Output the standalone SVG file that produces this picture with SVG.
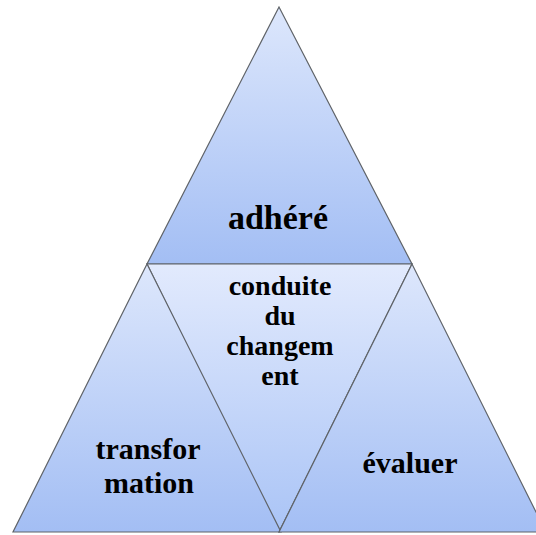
<svg xmlns="http://www.w3.org/2000/svg" width="536" height="535" viewBox="0 0 536 535">
<defs>
<linearGradient id="g" x1="0" y1="0" x2="0" y2="1">
<stop offset="0" stop-color="#dde7fc"/>
<stop offset="1" stop-color="#a3bef4"/>
</linearGradient>
<linearGradient id="gm" x1="0" y1="0" x2="0" y2="1">
<stop offset="0" stop-color="#e2eafd"/>
<stop offset="1" stop-color="#aac4f6"/>
</linearGradient>
</defs>
<style>
.tri{fill:url(#g);stroke:#5f6368;stroke-width:1.2;stroke-linejoin:miter}
.mid{fill:url(#gm);stroke:#5f6368;stroke-width:1.2}
.t{font-family:"Liberation Serif","Times New Roman",serif;font-weight:bold;fill:#000;text-anchor:middle}
</style>
<g id="top">
<polygon class="tri" points="279,7 147,264 412,264"/>
<text class="t" x="278" y="229" font-size="34">adhéré</text>
</g>
<g id="middle">
<polygon class="mid" points="147,264 412,264 279,532"/>
<text class="t" x="280" y="295" font-size="28">conduite</text>
<text class="t" x="280" y="325" font-size="28">du</text>
<text class="t" x="280" y="355" font-size="28">changem</text>
<text class="t" x="280" y="385" font-size="28">ent</text>
</g>
<g id="left">
<polygon class="tri" points="147,264 13,532 281,532"/>
<text class="t" x="148" y="459" font-size="30">transfor</text>
<text class="t" x="149" y="493" font-size="30">mation</text>
</g>
<g id="right">
<polygon class="tri" points="412,264 279,532 546,532"/>
<text class="t" x="410" y="473" font-size="30">évaluer</text>
</g>
<g id="connectors"/>
</svg>
